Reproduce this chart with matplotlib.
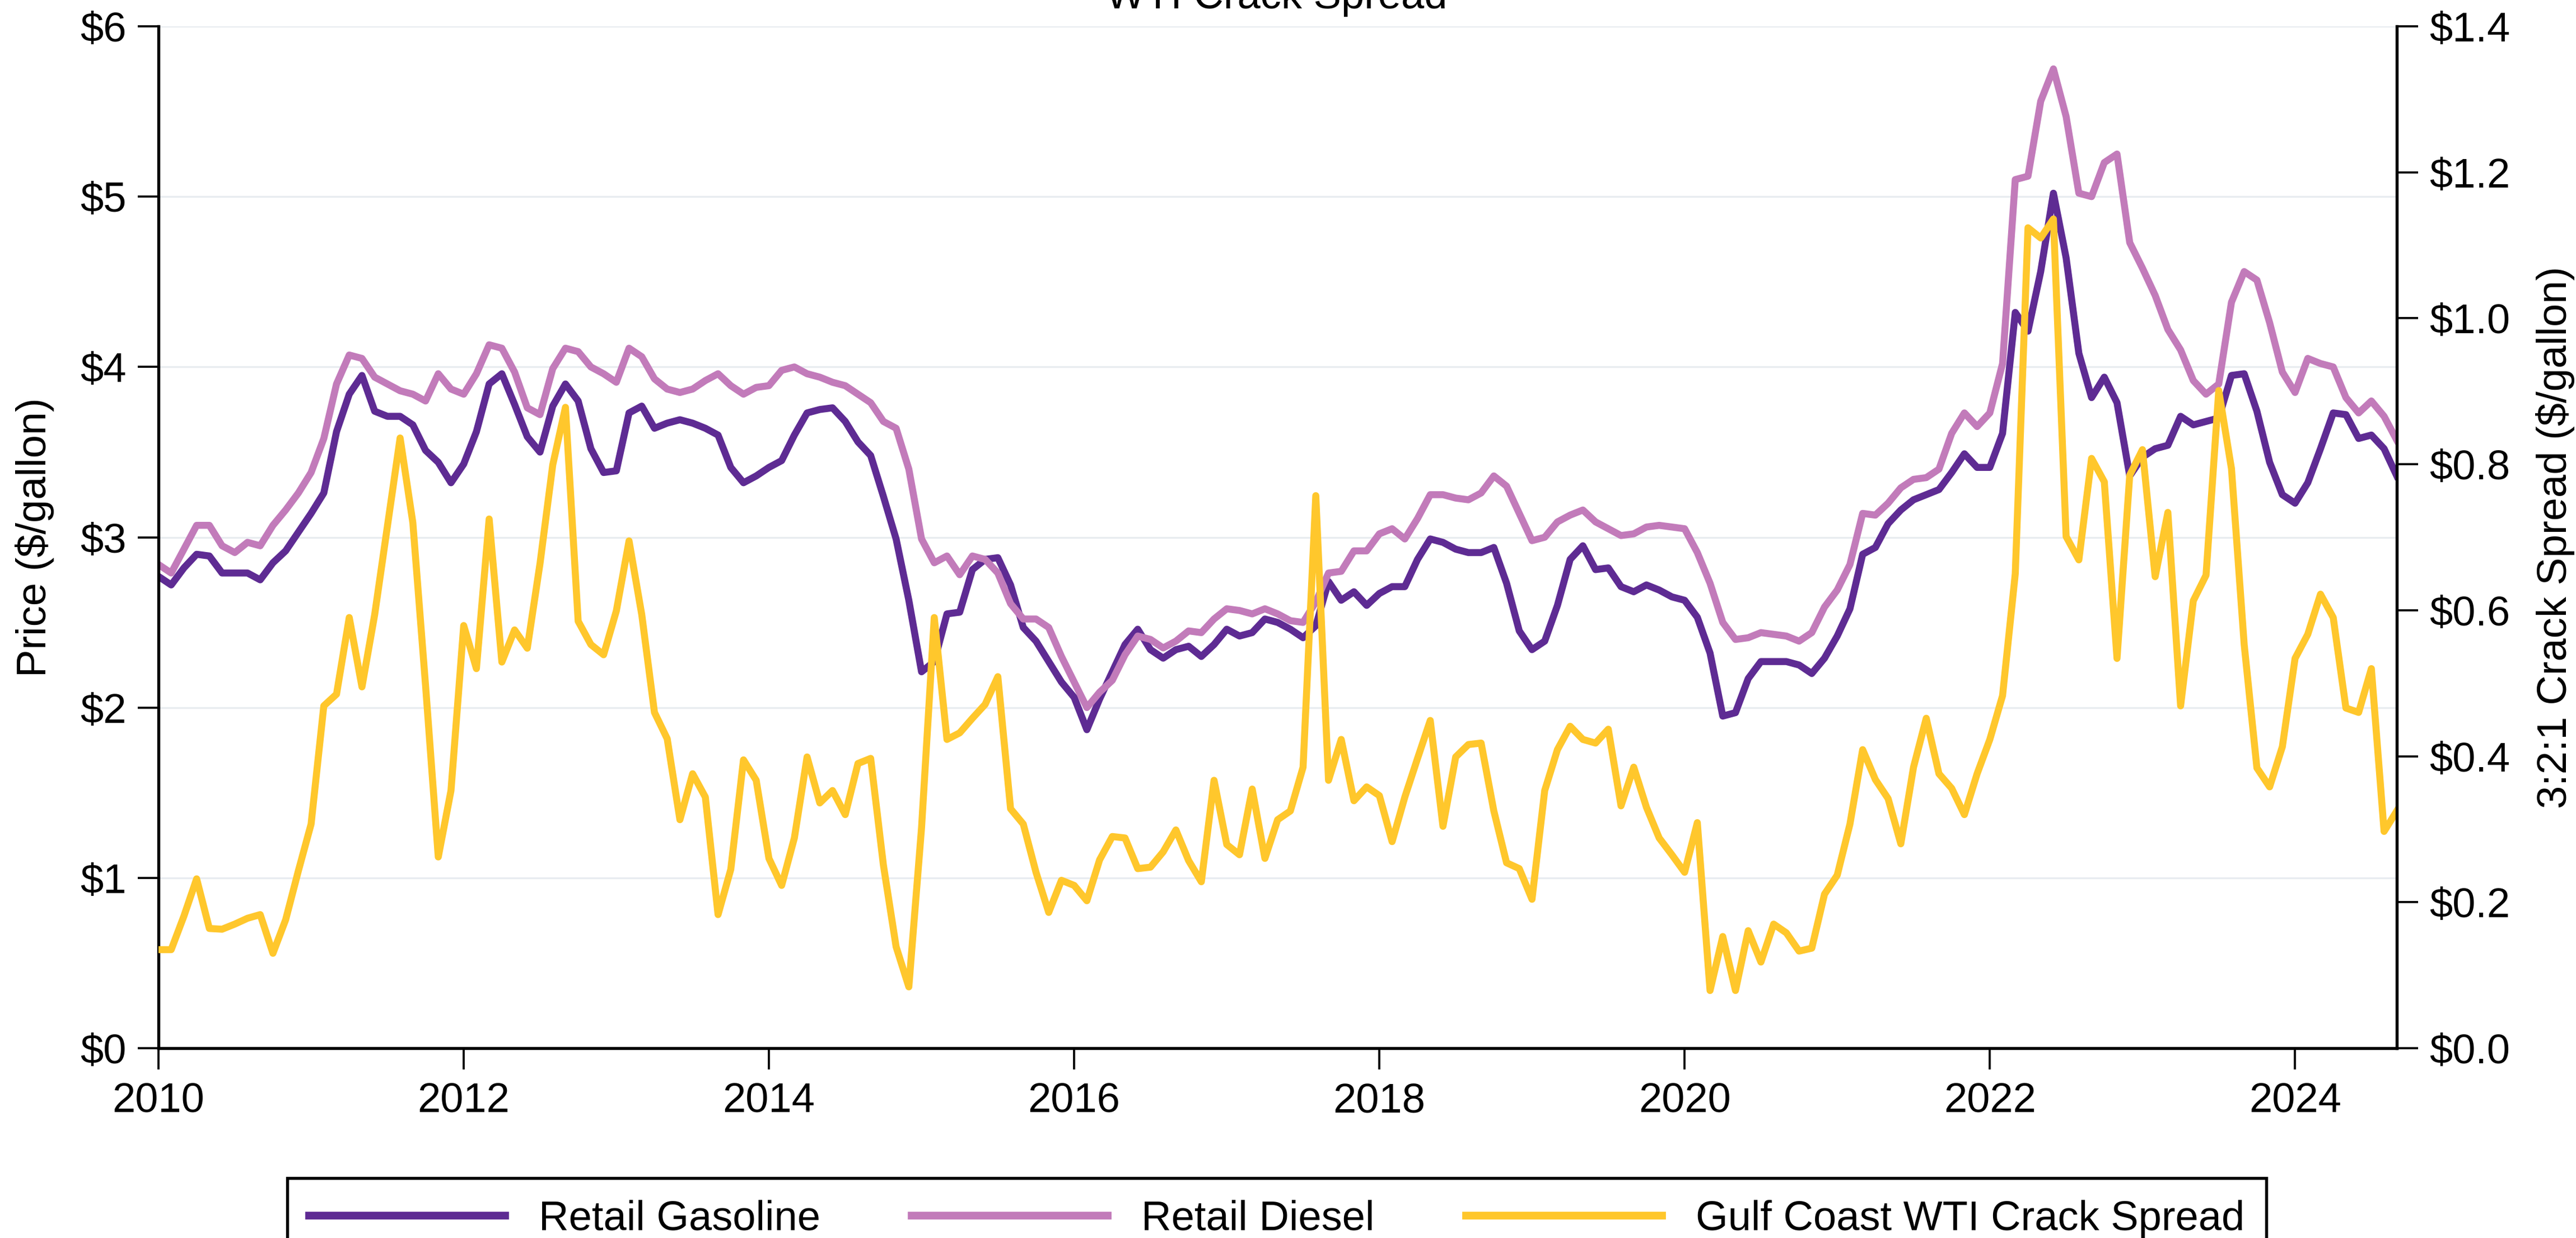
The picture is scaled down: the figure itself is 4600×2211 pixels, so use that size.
import numpy as np
import matplotlib
matplotlib.use("Agg")
import matplotlib.pyplot as plt
from matplotlib.ticker import FixedLocator

plt.rcParams['font.family'] = ['Liberation Sans', 'DejaVu Sans']
plt.rcParams['font.size'] = 17.8

# monthly averages, Jan 2010 - Sep 2024, $/gallon
gasoline = [
    2.77, 2.72, 2.82, 2.90, 2.89, 2.79, 2.79, 2.79, 2.75, 2.85, 2.92, 3.03,  # 2010
    3.14, 3.26, 3.62, 3.84, 3.95, 3.74, 3.71, 3.71, 3.66, 3.51, 3.44, 3.32,  # 2011
    3.43, 3.62, 3.90, 3.96, 3.78, 3.59, 3.50, 3.77, 3.90, 3.80, 3.52, 3.38,  # 2012
    3.39, 3.73, 3.77, 3.64, 3.67, 3.69, 3.67, 3.64, 3.60, 3.41, 3.32, 3.36,  # 2013
    3.41, 3.45, 3.60, 3.73, 3.75, 3.76, 3.68, 3.56, 3.48, 3.24, 2.99, 2.63,  # 2014
    2.21, 2.27, 2.55, 2.56, 2.81, 2.87, 2.88, 2.72, 2.47, 2.39, 2.27, 2.15,  # 2015
    2.06, 1.87, 2.05, 2.21, 2.37, 2.46, 2.34, 2.29, 2.34, 2.36, 2.30, 2.37,  # 2016
    2.46, 2.42, 2.44, 2.52, 2.50, 2.46, 2.41, 2.48, 2.74, 2.63, 2.68, 2.60,  # 2017
    2.67, 2.71, 2.71, 2.87, 2.99, 2.97, 2.93, 2.91, 2.91, 2.94, 2.73, 2.45,  # 2018
    2.34, 2.39, 2.60, 2.87, 2.95, 2.81, 2.82, 2.71, 2.68, 2.72, 2.69, 2.65,  # 2019
    2.63, 2.53, 2.32, 1.95, 1.97, 2.17, 2.27, 2.27, 2.27, 2.25, 2.20, 2.29,  # 2020
    2.42, 2.58, 2.90, 2.94, 3.08, 3.16, 3.22, 3.25, 3.28, 3.38, 3.49, 3.41,  # 2021
    3.41, 3.61, 4.32, 4.21, 4.56, 5.02, 4.64, 4.08, 3.82, 3.94, 3.79, 3.36,  # 2022
    3.47, 3.52, 3.54, 3.71, 3.66, 3.68, 3.70, 3.95, 3.96, 3.74, 3.44, 3.25,  # 2023
    3.20, 3.32, 3.52, 3.73, 3.72, 3.58, 3.60, 3.52, 3.36,                    # 2024
]

diesel = [
    2.84, 2.79, 2.93, 3.07, 3.07, 2.95, 2.91, 2.97, 2.95, 3.07, 3.16, 3.26,
    3.38, 3.58, 3.90, 4.07, 4.05, 3.94, 3.90, 3.86, 3.84, 3.80, 3.96, 3.87,
    3.84, 3.96, 4.13, 4.11, 3.97, 3.76, 3.72, 3.99, 4.11, 4.09, 4.00, 3.96,
    3.91, 4.11, 4.06, 3.93, 3.87, 3.85, 3.87, 3.92, 3.96, 3.89, 3.84, 3.88,
    3.89, 3.98, 4.00, 3.96, 3.94, 3.91, 3.89, 3.84, 3.79, 3.68, 3.64, 3.40,
    2.99, 2.85, 2.89, 2.78, 2.89, 2.87, 2.79, 2.61, 2.52, 2.52, 2.47, 2.30,
    2.15, 2.00, 2.09, 2.16, 2.31, 2.42, 2.40, 2.35, 2.39, 2.45, 2.44, 2.52,
    2.58, 2.57, 2.55, 2.58, 2.55, 2.51, 2.50, 2.62, 2.79, 2.80, 2.92, 2.92,
    3.02, 3.05, 2.99, 3.11, 3.25, 3.25, 3.23, 3.22, 3.26, 3.36, 3.30, 3.14,
    2.98, 3.00, 3.09, 3.13, 3.16, 3.09, 3.05, 3.01, 3.02, 3.06, 3.07, 3.06,
    3.05, 2.91, 2.73, 2.50, 2.40, 2.41, 2.44, 2.43, 2.42, 2.39, 2.44, 2.59,
    2.69, 2.84, 3.14, 3.13, 3.20, 3.29, 3.34, 3.35, 3.40, 3.61, 3.73, 3.65,
    3.73, 4.02, 5.10, 5.12, 5.56, 5.75, 5.47, 5.02, 5.00, 5.20, 5.25, 4.73,
    4.58, 4.42, 4.22, 4.10, 3.92, 3.84, 3.90, 4.38, 4.56, 4.51, 4.26, 3.97,
    3.85, 4.05, 4.02, 4.00, 3.82, 3.73, 3.80, 3.71, 3.57,
]

crack_spread = [
    0.135, 0.135, 0.181, 0.232, 0.164, 0.163, 0.170, 0.178, 0.183, 0.130, 0.176, 0.243,
    0.307, 0.469, 0.485, 0.590, 0.495, 0.594, 0.715, 0.836, 0.720, 0.497, 0.262, 0.353,
    0.579, 0.520, 0.725, 0.529, 0.573, 0.548, 0.664, 0.799, 0.878, 0.585, 0.553, 0.539,
    0.599, 0.695, 0.594, 0.460, 0.424, 0.313, 0.376, 0.344, 0.183, 0.245, 0.395, 0.367,
    0.260, 0.223, 0.288, 0.399, 0.336, 0.353, 0.320, 0.390, 0.397, 0.251, 0.139, 0.084,
    0.302, 0.590, 0.423, 0.432, 0.452, 0.471, 0.509, 0.328, 0.307, 0.241, 0.186, 0.230,
    0.223, 0.202, 0.258, 0.290, 0.288, 0.246, 0.248, 0.269, 0.299, 0.257, 0.228, 0.367,
    0.279, 0.265, 0.355, 0.260, 0.313, 0.325, 0.385, 0.757, 0.367, 0.423, 0.339, 0.358,
    0.346, 0.283, 0.344, 0.397, 0.449, 0.304, 0.399, 0.416, 0.418, 0.325, 0.254, 0.246,
    0.204, 0.353, 0.409, 0.441, 0.423, 0.418, 0.437, 0.332, 0.385, 0.330, 0.288, 0.265,
    0.241, 0.309, 0.079, 0.153, 0.079, 0.161, 0.118, 0.170, 0.158, 0.133, 0.137, 0.211,
    0.237, 0.307, 0.409, 0.368, 0.342, 0.280, 0.385, 0.452, 0.376, 0.356, 0.320, 0.376,
    0.423, 0.483, 0.650, 1.124, 1.110, 1.136, 0.701, 0.669, 0.808, 0.776, 0.534, 0.785,
    0.820, 0.646, 0.734, 0.469, 0.613, 0.648, 0.901, 0.794, 0.553, 0.384, 0.358, 0.413,
    0.534, 0.567, 0.622, 0.590, 0.466, 0.460, 0.520, 0.297, 0.325,
]

year_ticks = [2010, 2012, 2014, 2016, 2018, 2020, 2022, 2024]
price_ticks = [0, 1, 2, 3, 4, 5, 6]
spread_ticks = [0.0, 0.2, 0.4, 0.6, 0.8, 1.0, 1.2, 1.4]

# decimal year for each month
months = 2010 + np.arange(len(gasoline)) / 12

c_gas = '#5E2B93'
c_diesel = '#C27BBA'
c_crack = '#FFC72C'

W, H = 4600, 2211
fig = plt.figure(figsize=(W / 300, H / 300), dpi=300)
ax = fig.add_axes([283 / W, 1 - 1872 / H, (4280 - 283) / W, (1872 - 47) / H])

ax.plot(months, gasoline, color=c_gas, lw=3.0, label='Retail Gasoline')
ax.plot(months, diesel, color=c_diesel, lw=3.0, label='Retail Diesel')

ax.set_xlim(2010, months[-1])
ax.set_ylim(0, 6)
ax.xaxis.set_major_locator(FixedLocator(year_ticks))
ax.set_xticklabels([str(y) for y in year_ticks])
ax.yaxis.set_major_locator(FixedLocator(price_ticks))
ax.set_yticklabels([f'${p}' for p in price_ticks])
ax.yaxis.grid(True, color='#E8ECF0', lw=0.8)
ax.set_axisbelow(True)
ax.set_ylabel('Price ($/gallon)', labelpad=11)

ax2 = ax.twinx()
ax2.plot(months, crack_spread, color=c_crack, lw=3.0, label='Gulf Coast WTI Crack Spread')
ax2.set_ylim(0, 1.4)
ax2.yaxis.set_major_locator(FixedLocator(spread_ticks))
ax2.set_yticklabels([f'${s:.1f}' for s in spread_ticks])
ax2.set_ylabel('3:2:1 Crack Spread ($/gallon)', labelpad=11)

for a in (ax, ax2):
    a.spines['top'].set_visible(False)
    for s in a.spines.values():
        s.set_linewidth(1.3)
    a.tick_params(direction='out', length=9, width=0.9, colors='black')
ax.spines['right'].set_visible(False)
ax2.spines['left'].set_visible(False)
ax2.spines['bottom'].set_visible(False)
ax.tick_params(axis='y', pad=4.8)
ax.tick_params(axis='x', pad=5.5)
ax2.tick_params(axis='y', pad=5)

fig.text(0.4957, 1 - 15 / H, 'WTI Crack Spread', ha='center', va='baseline')

h1, l1 = ax.get_legend_handles_labels()
h2, l2 = ax2.get_legend_handles_labels()
leg = fig.legend(h1 + h2, l1 + l2, loc='upper center',
                 bbox_to_anchor=(0.4957, 1 - 2067 / H), ncol=3,
                 frameon=True, fancybox=False, framealpha=1,
                 edgecolor='black', borderpad=0.52, handlelength=4.72,
                 handletextpad=0.81, columnspacing=2.2)
leg.get_frame().set_linewidth(1.3)
for line in leg.get_lines():
    line.set_linewidth(3.3)

fig.savefig('out.png', dpi=300, facecolor='white')
